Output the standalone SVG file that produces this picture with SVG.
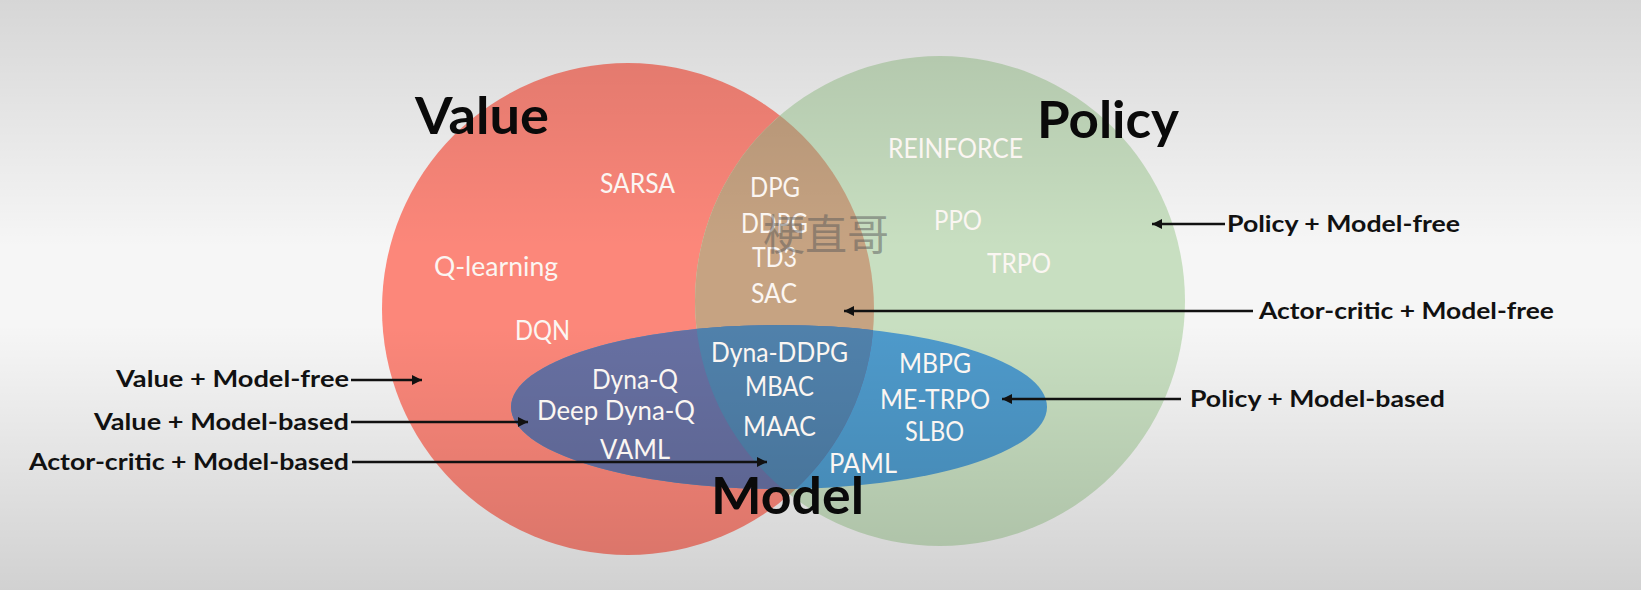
<svg xmlns="http://www.w3.org/2000/svg" width="1641" height="590" viewBox="0 0 1641 590">
  <defs>
    <linearGradient id="shade" x1="0" y1="0" x2="0" y2="1">
      <stop offset="0" stop-color="#000" stop-opacity="0.13"/>
      <stop offset="0.42" stop-color="#000" stop-opacity="0"/>
      <stop offset="0.55" stop-color="#000" stop-opacity="0"/>
      <stop offset="1" stop-color="#000" stop-opacity="0.15"/>
    </linearGradient>
    <clipPath id="clipRed"><circle cx="628" cy="309" r="246"/></clipPath>
    <clipPath id="clipGreen"><circle cx="940" cy="301" r="245"/></clipPath>
    <marker id="arrow" viewBox="0 0 10 10" refX="10" refY="5" markerWidth="11" markerHeight="10" markerUnits="userSpaceOnUse" orient="auto">
      <path d="M0,0 L10,5 L0,10 Z" fill="#111"/>
    </marker>
    <style>
      .lbl { font-family: Lato, "Open Sans", "Liberation Sans", sans-serif; font-size: 26px; fill: #fbf6f2; }
      .ann { font-family: Lato, "Liberation Sans", sans-serif; font-weight: 700; font-size: 23px; fill: #111; }
      .title { font-family: Lato, "Liberation Sans", sans-serif; font-weight: 700; font-size: 52px; fill: #0a0a0a; }
      .conn { stroke: #111; stroke-width: 2.6; fill: none; marker-end: url(#arrow); }
      .wm { font-family: "Noto Sans CJK SC", sans-serif; font-size: 42px; fill: #5a5a5a; fill-opacity: 0.5; }
    </style>
  </defs>

  <rect id="background" x="0" y="0" width="1641" height="590" fill="#f6f6f6"/>

  <g id="value-set">
    <circle cx="628" cy="309" r="246" fill="#fc877a"/>
  </g>
  <g id="policy-set">
    <circle cx="940" cy="301" r="245" fill="#c8dfc1"/>
  </g>
  <g id="actor-critic-overlap">
    <circle cx="940" cy="301" r="245" fill="#c6a382" clip-path="url(#clipRed)"/>
  </g>
  <g id="model-set">
    <ellipse cx="779" cy="407" rx="268" ry="82" fill="#4e9acb"/>
    <ellipse cx="779" cy="407" rx="268" ry="82" fill="#6770a2" clip-path="url(#clipRed)"/>
    <g clip-path="url(#clipRed)">
      <ellipse cx="779" cy="407" rx="268" ry="82" fill="#5081ab" clip-path="url(#clipGreen)"/>
    </g>
  </g>

  <rect id="shading" x="0" y="0" width="1641" height="590" fill="url(#shade)"/>

  <g id="titles">
    <text class="title" x="415" y="134" textLength="134" lengthAdjust="spacingAndGlyphs">Value</text>
    <text class="title" x="1037" y="138" textLength="142" lengthAdjust="spacingAndGlyphs">Policy</text>
    <text class="title" x="711" y="514" textLength="153" lengthAdjust="spacingAndGlyphs">Model</text>
  </g>

  <g id="algorithms">
    <text class="lbl" x="600" y="193" textLength="75" lengthAdjust="spacingAndGlyphs">SARSA</text>
    <text class="lbl" x="434" y="276" textLength="124" lengthAdjust="spacingAndGlyphs">Q-learning</text>
    <text class="lbl" x="515" y="340" textLength="55" lengthAdjust="spacingAndGlyphs">DQN</text>
    <text class="lbl" x="888" y="158" textLength="135" lengthAdjust="spacingAndGlyphs">REINFORCE</text>
    <text class="lbl" x="934" y="230" textLength="48" lengthAdjust="spacingAndGlyphs">PPO</text>
    <text class="lbl" x="987" y="273" textLength="64" lengthAdjust="spacingAndGlyphs">TRPO</text>
    <text class="lbl" x="750" y="197" textLength="50" lengthAdjust="spacingAndGlyphs">DPG</text>
    <text class="lbl" x="741" y="233" textLength="67" lengthAdjust="spacingAndGlyphs">DDPG</text>
    <text class="lbl" x="752" y="267" textLength="45" lengthAdjust="spacingAndGlyphs">TD3</text>
    <text class="lbl" x="751" y="303" textLength="46" lengthAdjust="spacingAndGlyphs">SAC</text>
    <text class="lbl" x="592" y="389" textLength="86" lengthAdjust="spacingAndGlyphs">Dyna-Q</text>
    <text class="lbl" x="537" y="420" textLength="158" lengthAdjust="spacingAndGlyphs">Deep Dyna-Q</text>
    <text class="lbl" x="600" y="459" textLength="70" lengthAdjust="spacingAndGlyphs">VAML</text>
    <text class="lbl" x="711" y="362" textLength="137" lengthAdjust="spacingAndGlyphs">Dyna-DDPG</text>
    <text class="lbl" x="745" y="396" textLength="69" lengthAdjust="spacingAndGlyphs">MBAC</text>
    <text class="lbl" x="743" y="436" textLength="73" lengthAdjust="spacingAndGlyphs">MAAC</text>
    <text class="lbl" x="899" y="373" textLength="72" lengthAdjust="spacingAndGlyphs">MBPG</text>
    <text class="lbl" x="880" y="409" textLength="110" lengthAdjust="spacingAndGlyphs">ME-TRPO</text>
    <text class="lbl" x="905" y="441" textLength="59" lengthAdjust="spacingAndGlyphs">SLBO</text>
    <text class="lbl" x="829" y="473" textLength="68" lengthAdjust="spacingAndGlyphs">PAML</text>
  </g>

  <g id="annotations">
    <text class="ann" x="1227" y="232" textLength="233" lengthAdjust="spacingAndGlyphs">Policy + Model-free</text>
    <text class="ann" x="1259" y="319" textLength="295" lengthAdjust="spacingAndGlyphs">Actor-critic + Model-free</text>
    <text class="ann" x="1190" y="407" textLength="255" lengthAdjust="spacingAndGlyphs">Policy + Model-based</text>
    <text class="ann" x="116" y="387" textLength="233" lengthAdjust="spacingAndGlyphs">Value + Model-free</text>
    <text class="ann" x="94" y="430" textLength="255" lengthAdjust="spacingAndGlyphs">Value + Model-based</text>
    <text class="ann" x="29" y="470" textLength="320" lengthAdjust="spacingAndGlyphs">Actor-critic + Model-based</text>
  </g>

  <g id="connectors">
    <line class="conn" x1="1225" y1="224" x2="1152" y2="224"/>
    <line class="conn" x1="1253" y1="311" x2="844" y2="311"/>
    <line class="conn" x1="1181" y1="399" x2="1002" y2="399"/>
    <line class="conn" x1="351" y1="380" x2="422" y2="380"/>
    <line class="conn" x1="351" y1="422" x2="528" y2="422"/>
    <line class="conn" x1="352" y1="462" x2="767" y2="462"/>
  </g>

  <text id="watermark" class="wm" x="763" y="250">梗直哥</text>
</svg>
